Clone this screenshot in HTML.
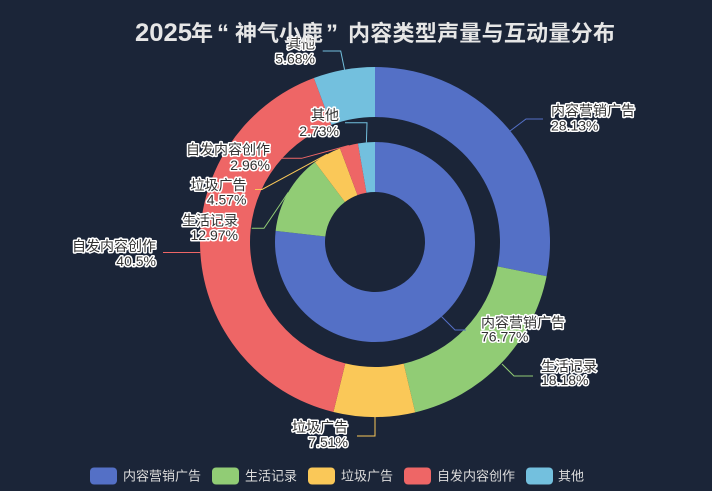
<!DOCTYPE html>
<html>
<head>
<meta charset="utf-8">
<style>
  html, body { margin:0; padding:0; background:#1b2538; }
  body { width:712px; height:491px; overflow:hidden; }
  svg { display:block; }
  .lbl { font-family:"Liberation Sans","Noto Sans CJK SC",sans-serif; font-size:14px; fill:#333; stroke:#fff; stroke-width:3; stroke-linejoin:round; paint-order:stroke; }
  .leg { font-family:"Liberation Sans","Noto Sans CJK SC",sans-serif; font-size:13px; fill:#dddddd; }
  .title { font-family:"Liberation Sans","Noto Sans CJK SC",sans-serif; font-size:22px; font-weight:bold; fill:#e6e6e6; }
</style>
</head>
<body>
<svg width="712" height="491" viewBox="0 0 712 491" xmlns="http://www.w3.org/2000/svg">
  <rect x="0" y="0" width="712" height="491" fill="#1b2538"/>

  <!-- Outer ring -->
  <path fill="#5470c6" d="M375,67 A175,175 0 0 1 546.63,276.20 L497.59,266.43 A125,125 0 0 0 375,117 Z"/>
  <path fill="#91cc75" d="M546.63,276.20 A175,175 0 0 1 415.21,412.32 L403.72,363.66 A125,125 0 0 0 497.59,266.43 Z"/>
  <path fill="#fac858" d="M415.21,412.32 A175,175 0 0 1 333.40,411.98 L345.28,363.42 A125,125 0 0 0 403.72,363.66 Z"/>
  <path fill="#ee6666" d="M333.40,411.98 A175,175 0 0 1 313.86,78.03 L331.33,124.88 A125,125 0 0 0 345.28,363.42 Z"/>
  <path fill="#73c0de" d="M313.86,78.03 A175,175 0 0 1 375,67 L375,117 A125,125 0 0 0 331.33,124.88 Z"/>

  <!-- Inner ring -->
  <path fill="#5470c6" d="M375,142 A100,100 0 1 1 275.62,230.90 L325.31,236.45 A50,50 0 1 0 375,192 Z"/>
  <path fill="#91cc75" d="M275.62,230.90 A100,100 0 0 1 314.91,162.07 L344.95,202.03 A50,50 0 0 0 325.31,236.45 Z"/>
  <path fill="#fac858" d="M314.91,162.07 A100,100 0 0 1 340.01,148.32 L357.50,195.16 A50,50 0 0 0 344.95,202.03 Z"/>
  <path fill="#ee6666" d="M340.01,148.32 A100,100 0 0 1 357.93,143.47 L366.47,192.73 A50,50 0 0 0 357.50,195.16 Z"/>
  <path fill="#73c0de" d="M357.93,143.47 A100,100 0 0 1 375,142 L375,192 A50,50 0 0 0 366.47,192.73 Z"/>

  <!-- Leader lines -->
  <g fill="none" stroke-width="1">
    <polyline stroke="#5470c6" points="510,131 526,119 543,119"/>
    <polyline stroke="#91cc75" points="502,364 514,376 533,376"/>
    <polyline stroke="#fac858" points="375,417 375,436 357,436"/>
    <polyline stroke="#ee6666" points="200.3,252.5 182,252.5 163,252.5"/>
    <polyline stroke="#73c0de" points="344.6,69.8 340.7,51 322.7,51"/>

    <polyline stroke="#5470c6" points="441.6,316.6 455,330 466,330"/>
    <polyline stroke="#91cc75" points="288.2,192.5 264,228.3 251.7,228.3"/>
    <polyline stroke="#fac858" points="327,154.3 262,189.5 255,189.5"/>
    <polyline stroke="#ee6666" points="348.8,145.5 301.7,158.3 281.7,158.3"/>
    <polyline stroke="#73c0de" points="366.4,142.4 367,122.7 345,122.7"/>
  </g>

  <!-- Labels -->
  <g class="lbl">
    <text x="551" y="115.5">内容营销广告</text>
    <text x="551" y="130.5">28.13%</text>

    <text x="541" y="371.5">生活记录</text>
    <text x="541" y="385">18.18%</text>

    <text x="348" y="432" text-anchor="end">垃圾广告</text>
    <text x="348" y="447" text-anchor="end">7.51%</text>

    <text x="156" y="251" text-anchor="end">自发内容创作</text>
    <text x="156" y="266" text-anchor="end">40.5%</text>

    <text x="315" y="48.5" text-anchor="end">其他</text>
    <text x="315" y="63.5" text-anchor="end">5.68%</text>

    <text x="481" y="327.5">内容营销广告</text>
    <text x="481" y="341.5">76.77%</text>

    <text x="238" y="225.5" text-anchor="end">生活记录</text>
    <text x="238" y="240" text-anchor="end">12.97%</text>

    <text x="246.5" y="190" text-anchor="end">垃圾广告</text>
    <text x="246.5" y="204.5" text-anchor="end">4.57%</text>

    <text x="270" y="154.5" text-anchor="end">自发内容创作</text>
    <text x="270" y="170" text-anchor="end">2.96%</text>

    <text x="339" y="120" text-anchor="end">其他</text>
    <text x="339" y="136" text-anchor="end">2.73%</text>
  </g>

  <!-- Title -->
  <text class="title" y="41"><tspan x="135" font-size="25" textLength="57" lengthAdjust="spacingAndGlyphs">2025</tspan><tspan x="191">年</tspan><tspan x="217" font-size="24">“</tspan><tspan x="235">神气小鹿</tspan><tspan x="326" font-size="24">”</tspan><tspan x="348" textLength="267" lengthAdjust="spacing">内容类型声量与互动量分布</tspan></text>

  <!-- Legend -->
  <rect x="90" y="467.5" width="27" height="17" rx="4" fill="#5470c6"/>
  <text class="leg" x="123" y="480.5">内容营销广告</text>
  <rect x="212" y="467.5" width="27" height="17" rx="4" fill="#91cc75"/>
  <text class="leg" x="245" y="480.5">生活记录</text>
  <rect x="308" y="467.5" width="27" height="17" rx="4" fill="#fac858"/>
  <text class="leg" x="341" y="480.5">垃圾广告</text>
  <rect x="404" y="467.5" width="27" height="17" rx="4" fill="#ee6666"/>
  <text class="leg" x="437" y="480.5">自发内容创作</text>
  <rect x="526" y="467.5" width="27" height="17" rx="4" fill="#73c0de"/>
  <text class="leg" x="558" y="480.5">其他</text>
</svg>
</body>
</html>
